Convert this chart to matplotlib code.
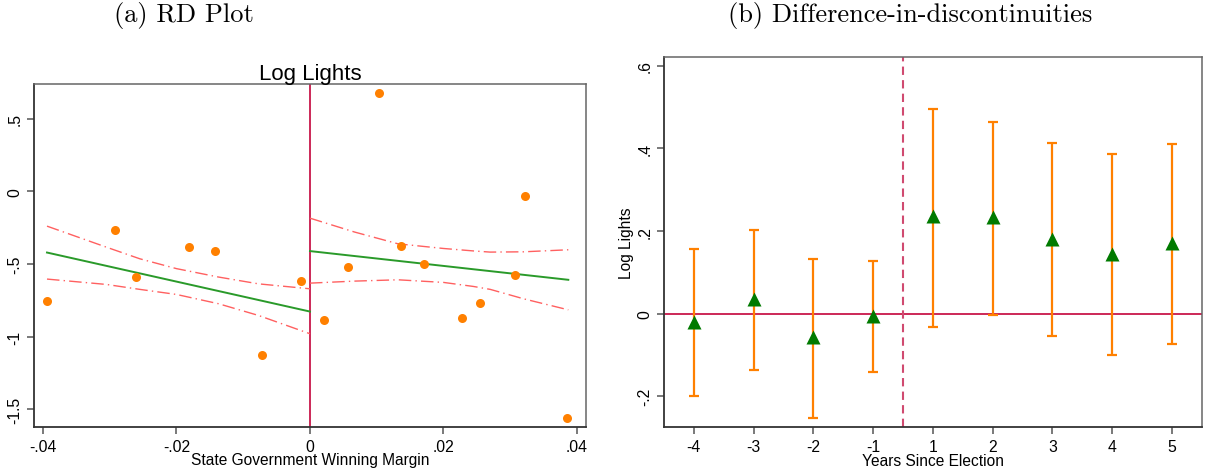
import matplotlib
matplotlib.use('Agg')
import matplotlib.pyplot as plt

# (a) RD plot: binned means
rd_x = [-0.0394, -0.0292, -0.0260, -0.0182, -0.0142, -0.0072, -0.0013,
        0.00205, 0.0057, 0.0104, 0.0137, 0.0171, 0.0227, 0.0255, 0.0307, 0.0322, 0.0385]
rd_y = [-0.756, -0.269, -0.590, -0.383, -0.407, -1.126, -0.620,
        -0.883, -0.524, 0.676, -0.379, -0.497, -0.873, -0.770, -0.579, -0.030, -1.559]

# linear fits on each side
fit_left_x = [-0.0394, 0.0]
fit_left_y = [-0.421, -0.828]
fit_right_x = [0.0, 0.0387]
fit_right_y = [-0.411, -0.609]

# confidence bands
ci_left_x = [-0.0394, -0.0305, -0.0255, -0.0200, -0.0137, -0.0077, 0.0]
ci_left_hi = [-0.239, -0.384, -0.464, -0.532, -0.590, -0.637, -0.671]
ci_left_lo = [-0.604, -0.641, -0.675, -0.710, -0.774, -0.855, -0.981]
ci_right_x = [0.0, 0.0067, 0.0132, 0.0200, 0.0245, 0.0270, 0.0320, 0.0387]
ci_right_hi = [-0.184, -0.280, -0.361, -0.393, -0.410, -0.418, -0.416, -0.402]
ci_right_lo = [-0.632, -0.618, -0.609, -0.627, -0.655, -0.675, -0.740, -0.816]

# (b) difference-in-discontinuities
years = ['-4', '-3', '-2', '-1', '1', '2', '3', '4', '5']
coef = [-0.019, 0.036, -0.057, -0.006, 0.236, 0.234, 0.182, 0.145, 0.171]
ci_hi = [0.156, 0.202, 0.133, 0.127, 0.495, 0.463, 0.412, 0.386, 0.410]
ci_lo = [-0.198, -0.137, -0.252, -0.142, -0.031, -0.002, -0.055, -0.100, -0.073]

orange = '#ff8000'
crimson = '#c8174a'
sans = ['Liberation Sans', 'DejaVu Sans']

fig = plt.figure(figsize=(12.05, 4.77), dpi=100)
ax1 = fig.add_axes([0.0282, 0.1027, 0.4581, 0.7191])
ax2 = fig.add_axes([0.5510, 0.1020, 0.4463, 0.7770])


def style(ax):
    for s in ['left', 'bottom']:
        ax.spines[s].set_color('#333333')
        ax.spines[s].set_linewidth(1.3)
    for s in ['top', 'right']:
        ax.spines[s].set_color('#666666')
        ax.spines[s].set_linewidth(1.1)
    ax.tick_params(direction='out', length=5, width=1.1, color='#555555',
                   labelsize=11.3, top=False, right=False)
    for lab in ax.get_yticklabels():
        lab.set_rotation(90)
        lab.set_va('center')
        lab.set_family(sans)
    for lab in ax.get_xticklabels():
        lab.set_family(sans)


# ---- left panel
ls_ci = (0, (9, 3, 1, 3))
ax1.axvline(0, color=crimson, lw=1.3, zorder=1)
for hi, lo, xs in [(ci_left_hi, ci_left_lo, ci_left_x), (ci_right_hi, ci_right_lo, ci_right_x)]:
    ax1.plot(xs, hi, color='#ff6060', lw=1, ls=ls_ci)
    ax1.plot(xs, lo, color='#ff6060', lw=1, ls=ls_ci)
ax1.plot(fit_left_x, fit_left_y, color='#2a9a2a', lw=1.4)
ax1.plot(fit_right_x, fit_right_y, color='#2a9a2a', lw=1.4)
ax1.plot(rd_x, rd_y, 'o', color=orange, ms=6.5, mec='none', zorder=5)
ax1.set_xlim(-0.04135, 0.04135)
ax1.set_ylim(-1.624, 0.741)
ax1.set_xticks([-0.04, -0.02, 0, 0.02, 0.04])
ax1.set_xticklabels(['-.04', '-.02', '0', '.02', '.04'])
ax1.set_yticks([0.5, 0, -0.5, -1, -1.5])
ax1.set_yticklabels(['.5', '0', '-.5', '-1', '-1.5'])
style(ax1)
ax1.set_title('Log Lights', fontsize=16, family=sans, pad=3)
ax1.set_xlabel('State Government Winning Margin', fontsize=11.2, family=sans, labelpad=-1)

# ---- right panel
pos = list(range(len(years)))
ax2.axhline(0, color=crimson, lw=1.3, zorder=1)
ax2.axvline(3.5, color='#d04a70', lw=1.5, ls=(0, (4, 2.5)), zorder=1)
ax2.errorbar(pos, coef, yerr=[[c - l for c, l in zip(coef, ci_lo)],
                              [h - c for c, h in zip(coef, ci_hi)]],
             fmt='none', ecolor=orange, elinewidth=1.6, capsize=3.8, capthick=1.6, zorder=2)
ax2.plot(pos, coef, '^', color='#007a00', ms=10.5, mec='none', zorder=3)
ax2.set_xlim(-0.5, 8.5)
ax2.set_ylim(-0.275, 0.622)
ax2.set_xticks(pos)
ax2.set_xticklabels(years)
ax2.set_yticks([-0.2, 0, 0.2, 0.4, 0.6])
ax2.set_yticklabels(['-.2', '0', '.2', '.4', '.6'])
style(ax2)
ax2.set_ylabel('Log Lights', fontsize=11.2, family=sans, labelpad=2)
ax2.set_xlabel('Years Since Election', fontsize=11.2, family=sans, labelpad=-1)

# panel headings
fig.text(0.153, 0.968, '(a) RD Plot', fontsize=19, family='cmr10', ha='center', va='center')
fig.text(0.755, 0.968, '(b) Difference-in-discontinuities', fontsize=19, family='cmr10',
         ha='center', va='center')

fig.savefig('out.png', dpi=100)
